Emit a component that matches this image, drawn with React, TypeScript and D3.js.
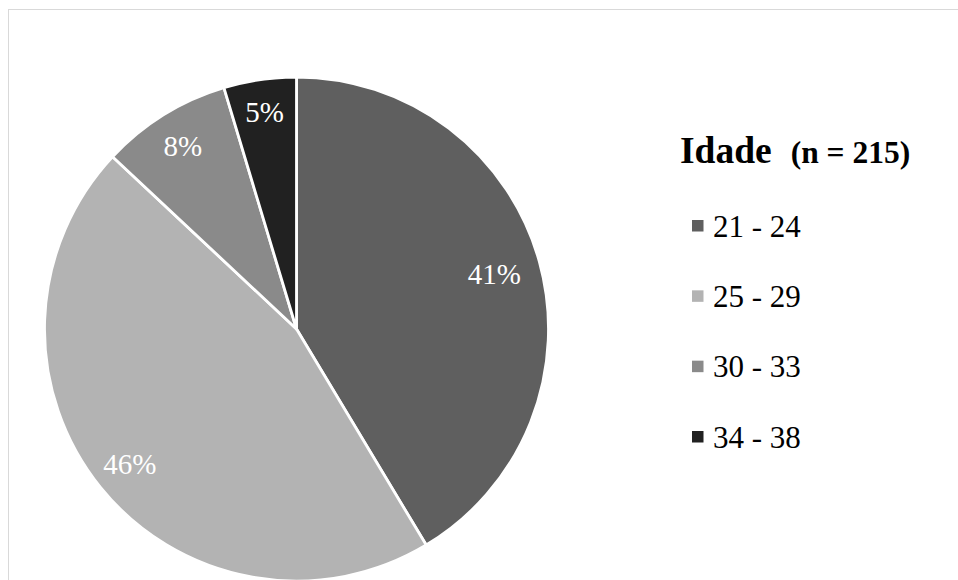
import React from "react";
import * as d3 from "d3";

const categories = ["21 - 24", "25 - 29", "30 - 33", "34 - 38"];
const counts = [89, 98, 18, 10];
const percentLabels = ["41%", "46%", "8%", "5%"];
const colors = ["#5f5f5f", "#b3b3b3", "#8a8a8a", "#212121"];
const titleMain = "Idade";
const titleSub = "(n = 215)";

const W = 958;
const H = 580;
const cx = 296.5;
const cy = 329;
const R = 252;
const FONT = "'Liberation Serif', 'DejaVu Serif', serif";
const labelRadiusFactor = [0.815, 0.85, 0.855, 0.87];

export default function App() {
  const pie = d3.pie<number>().sort(null).value((d) => d)(counts);
  const arc = d3.arc<d3.PieArcDatum<number>>().innerRadius(0).outerRadius(R);

  const legendY = d3
    .scalePoint<string>()
    .domain(categories)
    .range([226, 437]);

  return (
    <svg
      width={W}
      height={H}
      style={{ position: "absolute", left: 0, top: 0, background: "#fff", fontFamily: FONT }}
    >
      <rect x={8.5} y={9.5} width={W + 10} height={H + 10} fill="#fff" stroke="#d9d9d9" strokeWidth={1} />
      <g transform={`translate(${cx},${cy})`}>
        {pie.map((p, i) => (
          <path key={i} d={arc(p) || ""} fill={colors[i]} stroke="#fff" strokeWidth={2.8} strokeLinejoin="round" />
        ))}
        {pie.map((p, i) => {
          const lr = R * labelRadiusFactor[i];
          const [x, y] = d3
            .arc<d3.PieArcDatum<number>>()
            .innerRadius(lr)
            .outerRadius(lr)
            .centroid(p);
          return (
            <text
              key={"l" + i}
              x={x}
              y={y}
              fill="#fff"
              textAnchor="middle"
              dominantBaseline="central"
              style={{ fontFamily: FONT, fontSize: 29, fontWeight: 400 }}
            >
              {percentLabels[i]}
            </text>
          );
        })}
      </g>
      <text x={680} y={163} fill="#000" style={{ fontFamily: FONT, fontWeight: 700 }}>
        <tspan style={{ fontSize: 37.5 }}>{titleMain}</tspan>
        <tspan style={{ fontSize: 31.5 }} dx={19}>{titleSub}</tspan>
      </text>
      {categories.map((c, i) => {
        const y = legendY(c) as number;
        return (
          <g key={c}>
            <rect x={692} y={y - 6} width={11.5} height={11.5} fill={colors[i]} />
            <text x={713} y={y} dominantBaseline="central" fill="#000" style={{ fontFamily: FONT, fontSize: 31, fontWeight: 400 }}>
              {c}
            </text>
          </g>
        );
      })}
    </svg>
  );
}
